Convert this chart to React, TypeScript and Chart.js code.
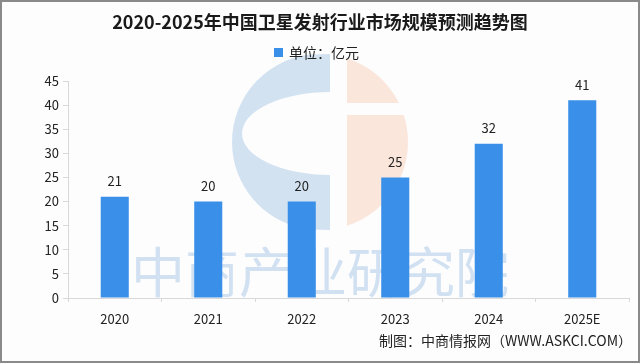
import React, { useEffect, useRef } from "react";
import { Chart, registerables } from "chart.js";

Chart.register(...registerables);

const categories = ["2020", "2021", "2022", "2023", "2024", "2025E"];
const values = [21, 20, 20, 25, 32, 41];
const yTicks = [0, 5, 10, 15, 20, 25, 30, 35, 40, 45];
const titleText = "2020-2025年中国卫星发射行业市场规模预测趋势图";
const legendText = "单位：亿元";
const footerText = "制图：中商情报网（WWW.ASKCI.COM）";
const watermarkText = "中商产业研究院";

const FONT = '"Noto Sans CJK SC", "Noto Sans", sans-serif';
const BAR = "#3a8fe9";

const decorPlugin = {
  id: "decor",
  beforeDraw(chart: any) {
    const ctx = chart.ctx;
    ctx.save();
    ctx.fillStyle = "#fdfdfe";
    ctx.fillRect(0, 0, chart.width, chart.height);
    ctx.restore();
  },
  beforeDatasetsDraw(chart: any) {
    const ctx = chart.ctx;
    ctx.save();
    // logo
    const cx = 320, cy = 142, r = 88;
    ctx.fillStyle = "rgba(196,216,236,0.75)";
    ctx.beginPath();
    ctx.moveTo(330, cy - r + 0.5);
    ctx.lineTo(330, cy - r);
    ctx.arc(cx, cy, r, -Math.PI / 2 - 0.11, Math.PI / 2 + 0.11, true);
    ctx.lineTo(330, cy + r);
    ctx.lineTo(330, 175);
    ctx.ellipse(330, 133.5, 88, 41.5, 0, Math.PI / 2, Math.PI * 1.5, false);
    ctx.closePath();
    ctx.fill();
    ctx.fillStyle = "rgba(250,222,208,0.75)";
    ctx.beginPath();
    ctx.rect(347, 40, 90, 63);
    ctx.rect(347, 115, 90, 130);
    ctx.clip();
    ctx.beginPath();
    ctx.arc(cx, cy, r, -Math.PI / 2, Math.PI / 2, false);
    ctx.closePath();
    ctx.fill();
    ctx.restore();
    ctx.save();
    ctx.fillStyle = "rgba(190,212,236,0.7)";
    ctx.font = `54px ${FONT}`;
    ctx.textAlign = "center";
    ctx.textBaseline = "middle";
    ctx.fillText(watermarkText, 320, 272);
    ctx.restore();
  },
  afterDraw(chart: any) {
    const ctx = chart.ctx;
    ctx.save();
    ctx.fillStyle = "#1a1a1a";
    ctx.textBaseline = "middle";
    ctx.textAlign = "center";
    ctx.font = `bold 18px ${FONT}`;
    ctx.fillText(titleText, 320, 22);
    // legend
    ctx.fillStyle = BAR;
    ctx.fillRect(274, 48, 9, 9);
    ctx.fillStyle = "#222";
    ctx.textAlign = "left";
    ctx.font = `14px ${FONT}`;
    ctx.fillText(legendText, 289, 53);
    // footer
    ctx.textAlign = "right";
    ctx.fillText(footerText, 632, 341);
    // values
    const meta = chart.getDatasetMeta(0);
    ctx.textAlign = "center";
    ctx.textBaseline = "bottom";
    ctx.font = `13px ${FONT}`;
    meta.data.forEach((bar: any, i: number) => {
      ctx.fillText(String(values[i]), bar.x, bar.y - 9);
    });
    // border
    ctx.strokeStyle = "#8a8a8a";
    ctx.lineWidth = 2;
    ctx.strokeRect(1, 1, chart.width - 2, chart.height - 2);
    ctx.restore();
  },
};

export default function App() {
  const ref = useRef<HTMLCanvasElement>(null);
  useEffect(() => {
    if (!ref.current) return;
    const chart = new Chart(ref.current, {
      type: "bar",
      data: {
        labels: categories,
        datasets: [
          {
            label: legendText,
            data: values,
            backgroundColor: BAR,
            barPercentage: 0.3,
            categoryPercentage: 1,
          },
        ],
      },
      options: {
        animation: false,
        responsive: false,
        layout: { padding: { top: 81, right: 11, left: 0, bottom: 0 } },
        plugins: { legend: { display: false }, title: { display: false }, tooltip: { enabled: false } },
        scales: {
          x: {
            offset: true,
            grid: { display: true, drawOnChartArea: false, offset: true, tickLength: 4, color: "#d8d8d8" },
            border: { color: "#d8d8d8" },
            ticks: { color: "#222", font: { size: 13, family: FONT }, padding: 9 },
            afterFit: (s: any) => { s.height = 65; },
          },
          y: {
            min: 0,
            max: 45,
            afterBuildTicks: (s: any) => { s.ticks = yTicks.map((v) => ({ value: v })); },
            grid: { display: true, drawOnChartArea: false, tickLength: 5, color: "#d8d8d8" },
            border: { color: "#d8d8d8" },
            ticks: { color: "#222", font: { size: 13, family: FONT }, padding: 4 },
            afterFit: (s: any) => { s.width = 68; },
          },
        },
      },
      plugins: [decorPlugin],
    });
    return () => chart.destroy();
  }, []);
  return (
    <div style={{ position: "fixed", left: 0, top: 0, width: 640, height: 363 }}>
      <canvas ref={ref} width={640} height={363} style={{ display: "block" }} />
    </div>
  );
}
